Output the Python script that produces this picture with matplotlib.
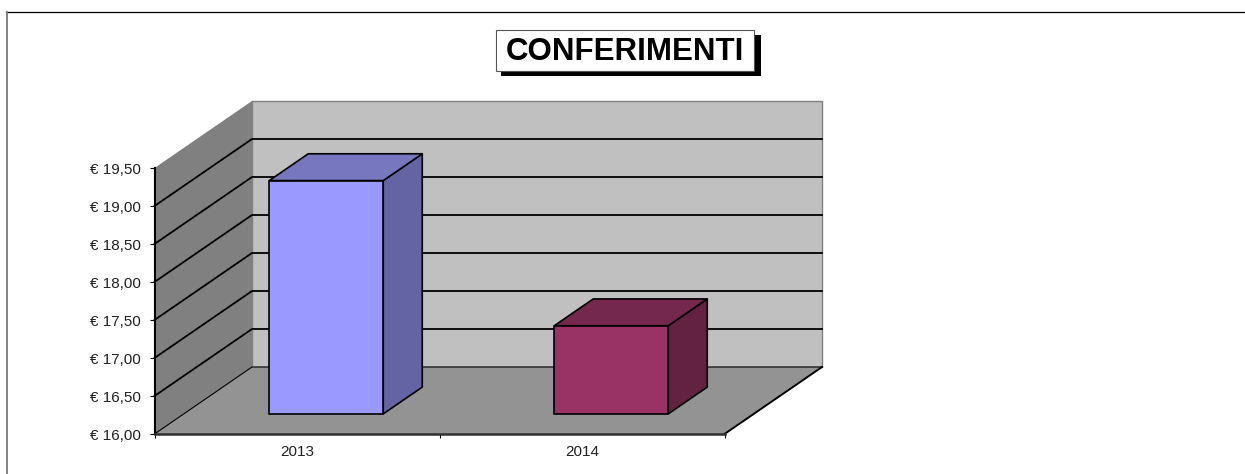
import matplotlib
matplotlib.use("Agg")
import matplotlib.pyplot as plt
from matplotlib.patches import Polygon, Rectangle

plt.rcParams["font.family"] = ["Liberation Sans", "DejaVu Sans"]

# dati
anni = ["2013", "2014"]
valori = [19.07, 17.16]
colori_fronte = ["#9999FF", "#993366"]
colori_sopra = ["#7777C0", "#74284E"]
colori_lato = ["#6464A4", "#632242"]
tick_valori = [16.0, 16.5, 17.0, 17.5, 18.0, 18.5, 19.0, 19.5]
tick_etichette = ["€ 16,00", "€ 16,50", "€ 17,00", "€ 17,50", "€ 18,00", "€ 18,50", "€ 19,00", "€ 19,50"]
titolo = "CONFERIMENTI"

W, H = 1245, 474
fig = plt.figure(figsize=(W / 100, H / 100), dpi=100, facecolor="white")

# cornice esterna, in pixel (solo sopra e a sinistra)
bg = fig.add_axes([0, 0, 1, 1])
bg.set_xlim(0, W)
bg.set_ylim(H, 0)
bg.axis("off")
bg.plot([6, W], [11.5, 11.5], color="black", lw=0.9)
bg.plot([6.5, 6.5], [11.5, H], color="#777777", lw=1.3)

# piano frontale del grafico: x in categorie, y in euro
left, right, top, bottom = 154.5, 724.5, 168, 434
ax = fig.add_axes([left / W, 1 - bottom / H, (right - left) / W, (bottom - top) / H])
ax.set_xlim(0, len(anni))
ax.set_ylim(tick_valori[0], tick_valori[-1])
ax.patch.set_visible(False)
for s in ["top", "right"]:
    ax.spines[s].set_visible(False)
ax.spines["left"].set_linewidth(1.5)
ax.spines["bottom"].set_linewidth(1.8)
ax.spines["bottom"].set_color("#303030")

# profondita' della vista 3D in unita' dati
DX = 97.5 / (right - left) * len(anni)
DY = 67 / (bottom - top) * (tick_valori[-1] - tick_valori[0])
y0, y1 = tick_valori[0], tick_valori[-1]
xmax = len(anni)


def p(x, y, d=0.0):
    # proiezione obliqua, d = 0 davanti, d = 1 dietro
    return (x + d * DX, y + d * DY)


def faccia(punti, colore, bordo="none", lw=0.0, z=1):
    ax.add_patch(Polygon(punti, closed=True, facecolor=colore, edgecolor=bordo, lw=lw,
                         zorder=z, clip_on=False, joinstyle="round"))


# pareti e pavimento
faccia([p(0, y0, 1), p(xmax, y0, 1), p(xmax, y1, 1), p(0, y1, 1)], "#C0C0C0", "#808080", 1.0)
faccia([p(0, y0), p(0, y0, 1), p(0, y1, 1), p(0, y1)], "#808080")
faccia([p(0, y0), p(xmax, y0), p(xmax, y0, 1), p(0, y0, 1)], "#939393")

# griglia su parete laterale e di fondo
for v in tick_valori[1:-1]:
    xs, ys = zip(p(0, v), p(0, v, 1), p(xmax, v, 1))
    ax.plot(xs, ys, color="black", lw=1.3, zorder=2, clip_on=False, solid_joinstyle="miter")
xs, ys = zip(p(0, y0), p(0, y0, 1), p(xmax, y0, 1))
ax.plot(xs, ys, color="black", lw=0.8, zorder=2, clip_on=False)
xs, ys = zip(p(xmax, y0, 1), p(xmax, y0))
ax.plot(xs, ys, color="black", lw=1.4, zorder=2, clip_on=False)

# barre
larg = 0.4
d0, d1 = 0.3, 0.7
for i, val in enumerate(valori):
    x0 = i + 0.5 - larg / 2
    x1 = i + 0.5 + larg / 2
    nero = "black"
    faccia([p(x1, y0, d0), p(x1, y0, d1), p(x1, val, d1), p(x1, val, d0)], colori_lato[i], nero, 1.2, 3)
    faccia([p(x0, val, d0), p(x1, val, d0), p(x1, val, d1), p(x0, val, d1)], colori_sopra[i], nero, 1.2, 3)
    faccia([p(x0, y0, d0), p(x1, y0, d0), p(x1, val, d0), p(x0, val, d0)], colori_fronte[i], nero, 1.2, 4)

# assi
ax.set_yticks(tick_valori)
ax.set_yticklabels(tick_etichette, fontsize=11, color="#222222")
ax.set_xticks([0, 1, 2])
ax.set_xticklabels(["", "", ""])
ax.set_xticks([0.5, 1.5], minor=True)
ax.set_xticklabels(anni, minor=True, fontsize=11, color="#222222")
ax.tick_params(axis="x", which="minor", length=0, pad=8)
ax.tick_params(axis="x", which="major", length=3, width=0.8)
ax.tick_params(axis="y", length=3.5, width=0.8, pad=6.5)
for s in ax.spines.values():
    s.set_zorder(6)

# titolo con ombra, in pixel
bg.add_patch(Rectangle((501, 35), 260, 41, facecolor="black", edgecolor="none", zorder=3))
bg.add_patch(Rectangle((496, 30), 258, 41, facecolor="white", edgecolor="#555555", lw=0.8, zorder=4))
bg.text(625, 52, titolo, fontsize=22.5, fontweight="bold", color="black", ha="center", va="center", zorder=5)

fig.savefig("out.png", dpi=100)
